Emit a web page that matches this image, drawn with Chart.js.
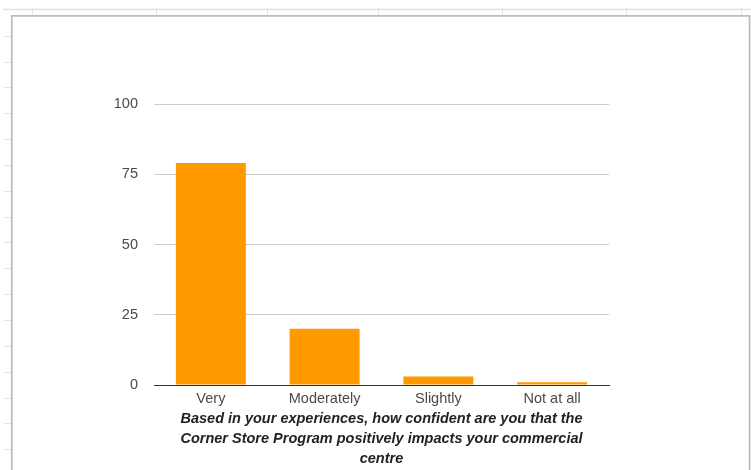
<!DOCTYPE html>
<html>
<head>
<meta charset="utf-8">
<script src="https://cdn.jsdelivr.net/npm/chart.js@4"></script>
<style>
html,body{margin:0;padding:0;background:#fff;}
#wrap{position:absolute;left:0;top:0;width:751px;height:470px;}
</style>
</head>
<body>
<div id="wrap"><canvas id="c" width="751" height="470"></canvas></div>
<script>
const categories = ["Very", "Moderately", "Slightly", "Not at all"];
const values = [79, 20, 3, 1];
const yTicks = [0, 25, 50, 75, 100];
const axisTitle = [
  "Based in your experiences, how confident are you that the",
  "Corner Store Program positively impacts your commercial",
  "centre"
];

const sheetDecor = {
  id: 'sheetDecor',
  beforeDraw(chart) {
    const ctx = chart.ctx;
    ctx.save();
    ctx.fillStyle = '#fff';
    ctx.fillRect(0, 0, 751, 470);
    ctx.strokeStyle = '#e2e2e2';
    ctx.lineWidth = 1.3;
    ctx.beginPath();
    ctx.moveTo(3, 9.5); ctx.lineTo(751, 9.5);
    ctx.stroke();
    ctx.lineWidth = 1;
    [32, 156, 267, 378, 502, 626, 741].forEach(x => {
      ctx.beginPath(); ctx.moveTo(x + 0.5, 8); ctx.lineTo(x + 0.5, 15); ctx.stroke();
    });
    for (let y = 35.7; y < 470; y += 25.85) {
      ctx.beginPath(); ctx.moveTo(4, Math.round(y) + 0.5); ctx.lineTo(11, Math.round(y) + 0.5); ctx.stroke();
    }
    ctx.strokeStyle = '#bdbdbd';
    ctx.lineWidth = 1.8;
    ctx.beginPath();
    ctx.moveTo(11.8, 470); ctx.lineTo(11.8, 15.8); ctx.lineTo(749.6, 15.8); ctx.lineTo(749.6, 470);
    ctx.stroke();
    ctx.restore();
  }
};

new Chart(document.getElementById('c'), {
  type: 'bar',
  data: {
    labels: categories,
    datasets: [{
      data: values,
      backgroundColor: '#ff9900',
      borderWidth: 0,
      barPercentage: 0.615,
      categoryPercentage: 1.0
    }]
  },
  options: {
    responsive: false,
    animation: false,
    devicePixelRatio: 1,
    layout: { padding: { left: 0, top: 104, right: 142, bottom: 0 } },
    plugins: { legend: { display: false }, tooltip: { enabled: false } },
    scales: {
      x: {
        grid: { display: false, drawTicks: false },
        border: { display: true, color: '#333', width: 1 },
        ticks: {
          padding: 5,
          color: '#4a4a4a',
          font: { family: 'Liberation Sans, Arial', size: 14.5 }
        },
        title: {
          display: true,
          text: axisTitle,
          color: '#222',
          padding: { top: 0, bottom: 1 },
          font: { family: 'Liberation Sans, Arial', size: 14.5, weight: 'bold', style: 'italic', lineHeight: 20 / 14.5 }
        },
        afterFit(scale) { scale.height = 85; }
      },
      y: {
        min: 0, max: 100,
        afterBuildTicks(scale) { scale.ticks = yTicks.map(v => ({ value: v })); },
        grid: { color: '#cccccc', drawTicks: false, lineWidth: 1 },
        border: { display: false },
        ticks: {
          padding: 16,
          color: '#4a4a4a',
          font: { family: 'Liberation Sans, Arial', size: 14.5 }
        },
        afterFit(scale) { scale.width = 154; }
      }
    }
  },
  plugins: [sheetDecor]
});
</script>
</body>
</html>
